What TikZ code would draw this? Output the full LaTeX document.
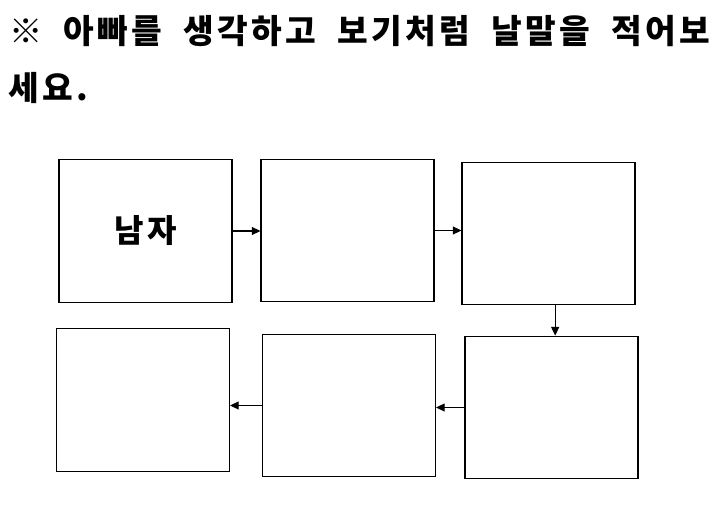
\documentclass[tikz,border=0pt]{standalone}
\usepackage{fontspec}
\usepackage{tikz}
\usetikzlibrary{arrows.meta,positioning}
\newfontfamily\kor{Noto Sans CJK KR}
\newfontfamily\korwide[LetterSpace=10]{Noto Sans CJK KR}

\begin{document}
\begin{tikzpicture}[
    x=0.75pt,y=-0.75pt,
    wordbox/.style={draw=black,line width=0.8pt,minimum width=129.75pt,minimum height=107pt,inner sep=0pt},
    arr/.style={-{Triangle[length=6.5pt,width=6pt]},line width=0.8pt,draw=black}
  ]
    \useasboundingbox (0,0) rectangle (719,517);
    % instruction
    \node[anchor=west,inner sep=0pt,font=\korwide\bfseries\fontsize{25}{30}\selectfont] (title1) at (9,31)
      {\makebox[526pt][s]{※ 아빠를 생각하고 보기처럼 날말을 적어보}};
    \node[anchor=west,inner sep=0pt,font=\korwide\bfseries\fontsize{25}{30}\selectfont] (title2) at (8,88) {세요.};
    % word chain
    \node[wordbox,font=\korwide\bfseries\fontsize{24}{28}\selectfont] (b1) at (145.5,231) {남자};
    \node[wordbox] (b2) at (347.5,230.5) {};
    \node[wordbox] (b3) at (548.5,233.5) {};
    \node[wordbox] (b4) at (551.5,407.5) {};
    \node[wordbox] (b5) at (349,405.5) {};
    \node[wordbox] (b6) at (143,400) {};
    \draw[arr] (b1.east) -- (b1.east -| b2.west);
    \draw[arr] (b2.east) -- (b2.east -| b3.west);
    \draw[arr] ([xshift=5pt]b3.south) -- ([xshift=5pt]b3.south |- b4.north);
    \draw[arr] (b4.west) -- (b4.west -| b5.east);
    \draw[arr] (b5.west) -- (b5.west -| b6.east);
  \end{tikzpicture}
\end{document}
